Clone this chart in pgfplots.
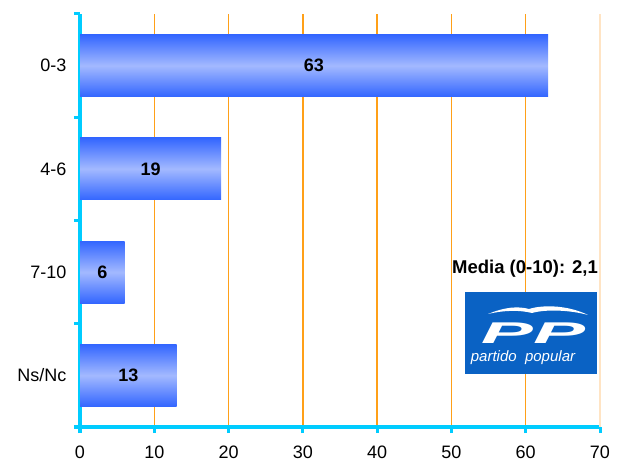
\documentclass[border=0pt]{standalone}
\usepackage{fontspec}
\setmainfont{Liberation Sans}
\usepackage{graphicx}
\usepackage{pgfplots}
\usepackage{pgfplotstable}
\pgfplotsset{compat=1.18}

\definecolor{axcyan}{RGB}{0,204,255}
\definecolor{gridor}{RGB}{255,160,24}
\definecolor{gridpale}{RGB}{255,228,196}
\definecolor{barE}{RGB}{51,102,255}
\definecolor{barM}{RGB}{163,185,255}
\definecolor{logoblue}{RGB}{10,98,196}

% y: 3 = 0-3, 2 = 4-6, 1 = 7-10, 0 = Ns/Nc
\pgfplotstableread{
y v
3 63
2 19
1 6
0 13
}\datos

\begin{document}
\begin{tikzpicture}[pbar/.style={xbar, draw=none, mark=none,
    top color=barE, bottom color=barE, middle color=barM}]
\begin{axis}[
  at={(80bp,41bp)}, anchor=south west,
  scale only axis, width=520bp, height=413bp,
  xmin=0, xmax=70, ymin=-0.5, ymax=3.5,
  axis lines*=left,
  axis line style={draw=axcyan, line width=3bp},
  tick align=outside,
  major tick length=6bp,
  every tick/.style={draw=axcyan, line width=3bp},
  xtick={0,10,...,60},
  extra x ticks={70},
  extra x tick style={grid=major, major grid style={draw=gridpale, line width=1.5bp}},
  xmajorgrids=true,
  major grid style={draw=gridor, line width=1.5bp},
  ytick={-0.5,0.5,1.5,2.5,3.5},
  yticklabels={},
  extra y ticks={0,1,2,3},
  extra y tick labels={Ns/Nc,7-10,4-6,0-3},
  extra y tick style={grid=none, major tick length=0pt},
  tick label style={font=\fontsize{18bp}{21bp}\selectfont},
  /pgf/number format/assume math mode=true,
  xticklabel style={yshift=-9bp},
  yticklabel style={xshift=-10bp},
  bar width=0.6,
]
% one plot per bar, so that each bar gets its own shading
\addplot[pbar] table[x=v, y=y, restrict expr to domain={\thisrow{y}}{3:3}] {\datos};
\addplot[pbar] table[x=v, y=y, restrict expr to domain={\thisrow{y}}{2:2}] {\datos};
\addplot[pbar] table[x=v, y=y, restrict expr to domain={\thisrow{y}}{1:1}] {\datos};
\addplot[pbar] table[x=v, y=y, restrict expr to domain={\thisrow{y}}{0:0}] {\datos};
\addplot[draw=none, mark=none,
  nodes near coords, point meta=explicit symbolic,
  every node near coord/.append style={anchor=center, inner sep=0pt,
    font=\fontsize{18bp}{21bp}\selectfont\bfseries}]
  table[x expr=\thisrow{v}/2, y=y, meta=v] {\datos};
\end{axis}

\node[font=\fontsize{18.5bp}{21bp}\selectfont\bfseries] at (525bp,199bp) {Media (0-10): 2,1};

% logo
\fill[logoblue] (465bp,94bp) rectangle (597bp,176bp);
\fill[white] (488bp,154bp) .. controls (505bp,161bp) and (518bp,162bp) .. (529bp,159bp)
  .. controls (545bp,164bp) and (570bp,162bp) .. (588bp,153bp)
  .. controls (570bp,158bp) and (546bp,159bp) .. (532bp,155bp)
  .. controls (520bp,158bp) and (505bp,158bp) .. cycle;
\node[anchor=base, inner sep=0pt, text=white,
  font=\fontsize{30bp}{30bp}\selectfont\bfseries\itshape] at (533bp,124bp) {\scalebox{2.6}[1]{PP}};
\node[anchor=base, inner sep=0pt, text=white,
  font=\fontsize{15bp}{15bp}\selectfont\itshape] at (523bp,106bp) {partido\ \ popular};

\pgfresetboundingbox
\path[use as bounding box] (0,0) rectangle (627bp,468bp);
\end{tikzpicture}
\end{document}
